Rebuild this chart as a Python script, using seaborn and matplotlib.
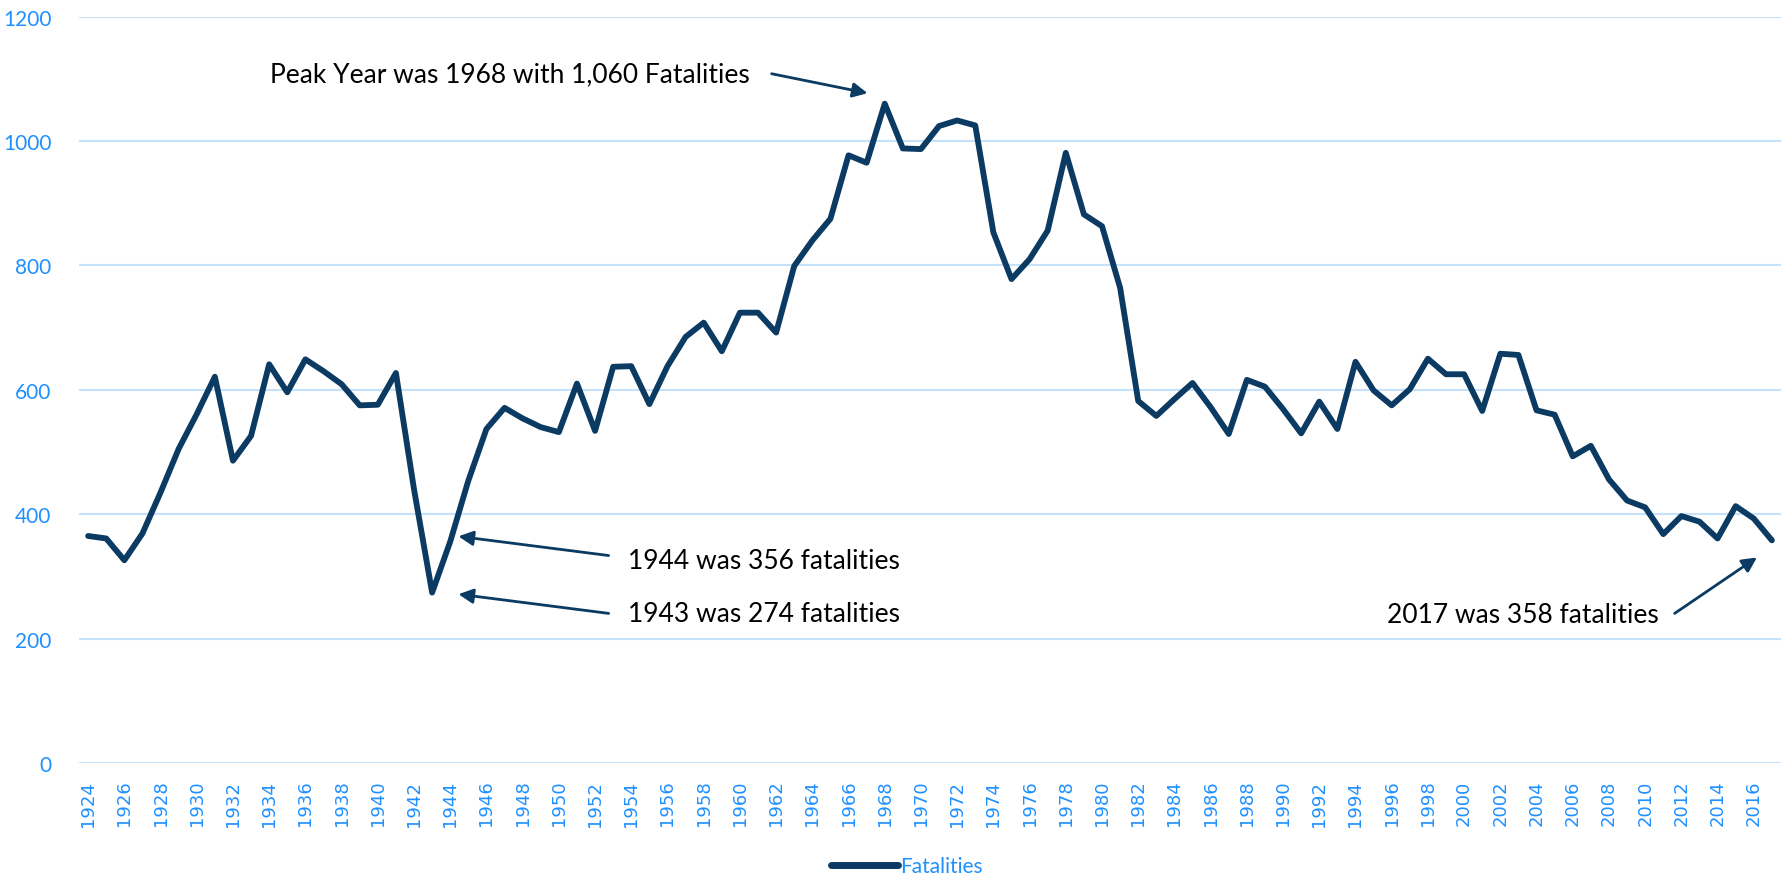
import matplotlib
matplotlib.use("Agg")
import matplotlib.pyplot as plt
import seaborn as sns
import pandas as pd

# categories and values
years = list(range(1924, 2018))
fatalities = [
    365, 361, 326, 369, 435, 505, 561, 621, 486, 526,
    641, 596, 649, 630, 609, 575, 576, 627, 440, 274,
    356, 454, 537, 571, 554, 540, 532, 610, 534, 637,
    638, 577, 638, 685, 708, 662, 724, 724, 692, 799,
    840, 875, 977, 965, 1060, 988, 987, 1024, 1033, 1025,
    853, 778, 810, 856, 981, 882, 863, 764, 582, 558,
    585, 611, 572, 529, 616, 605, 569, 530, 581, 537,
    645, 599, 575, 601, 650, 625, 625, 566, 658, 656,
    567, 560, 493, 510, 456, 422, 411, 368, 397, 388,
    361, 413, 393, 358,
]
y_ticks = [0, 200, 400, 600, 800, 1000, 1200]

LINE = "#0B3A62"
BLUE = "#1E90FF"
GRID = "#C6E2FA"

sns.set_style("white")
plt.rcParams["font.family"] = ["Lato", "DejaVu Sans"]

df = pd.DataFrame({"Year": years, "Fatalities": fatalities})

fig = plt.figure(figsize=(17.89, 8.79), dpi=100)
ax = fig.add_axes([0.0442, 0.1308, 0.9513, 0.8492])

sns.lineplot(data=df, x="Year", y="Fatalities", ax=ax, color=LINE,
             linewidth=4.2, label="Fatalities", legend=False)

ax.set_xlim(years[0] - 0.5, years[-1] + 0.5)
ax.set_ylim(0, 1200)
ax.set_yticks(y_ticks)
ax.set_xticks(years[::2])
ax.set_xticklabels([str(y) for y in years[::2]], rotation=90,
                   family="DejaVu Sans", fontsize=13, color=BLUE)
ax.tick_params(axis="x", length=0, pad=12)
ax.tick_params(axis="y", length=0, pad=20, labelsize=15, labelcolor=BLUE)
ax.grid(axis="y", color=GRID, linewidth=1.5)
ax.set_axisbelow(True)
ax.set_xlabel("")
ax.set_ylabel("")
for s in ax.spines.values():
    s.set_visible(False)

# annotations
arrow = dict(arrowstyle="-|>", color=LINE, lw=2, mutation_scale=22)
txt = dict(fontsize=19, color="black")

ax.annotate("", xy=(1967.2, 1076), xytext=(1961.6, 1109), arrowprops=arrow)
ax.text(1960.55, 1108, "Peak Year was 1968 with 1,060 Fatalities",
        ha="right", va="center", **txt)

ax.annotate("", xy=(1944.3, 365), xytext=(1952.9, 333), arrowprops=arrow)
ax.text(1953.8, 326, "1944 was 356 fatalities", ha="left", va="center", **txt)

ax.annotate("", xy=(1944.3, 272), xytext=(1952.9, 240), arrowprops=arrow)
ax.text(1953.8, 240, "1943 was 274 fatalities", ha="left", va="center", **txt)

ax.annotate("", xy=(2016.3, 333), xytext=(2011.5, 238), arrowprops=arrow)
ax.text(2010.75, 238, "2017 was 358 fatalities", ha="right", va="center", **txt)

handles, labels = ax.get_legend_handles_labels()
leg = fig.legend(handles, labels, loc="center", bbox_to_anchor=(0.507, 0.0136),
                 frameon=False, fontsize=15, handlelength=3.2, handletextpad=0.1)
for line in leg.get_lines():
    line.set_linewidth(5)
    line.set_solid_capstyle("round")
for t in leg.get_texts():
    t.set_color(BLUE)

fig.savefig("out.png", dpi=100)
